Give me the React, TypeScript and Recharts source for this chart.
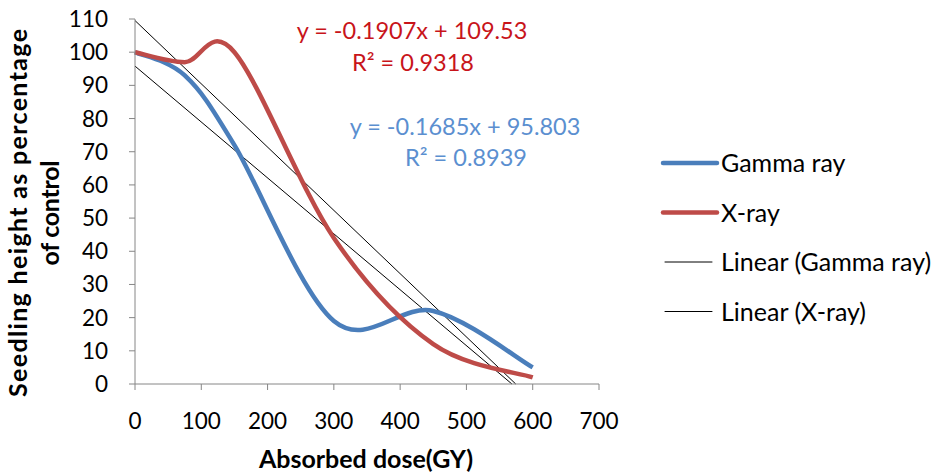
import { LineChart, Line, XAxis, YAxis, Customized } from 'recharts';

// absorbed dose (GY) at which seedlings were measured
const doses = [0, 75, 150, 300, 450, 600];
const gammaRay = [100, 93, 72, 19, 22, 5];
const xRay = [100, 97, 100, 44, 12, 2];

// trendline end points (line is clipped at y = 0)
const gammaTrend = [
  { x: 0, y: 95.803 },
  { x: 568.6, y: 0 },
];
const xRayTrend = [
  { x: 0, y: 109.53 },
  { x: 574.4, y: 0 },
];

const xTicks = [0, 100, 200, 300, 400, 500, 600, 700];
const yTicks = [0, 10, 20, 30, 40, 50, 60, 70, 80, 90, 100, 110];

const legendItems = [
  { name: 'Gamma ray', color: '#4a7ebb', width: 4.5 },
  { name: 'X-ray', color: '#be4b48', width: 4.5 },
  { name: 'Linear (Gamma ray)', color: '#000', width: 1 },
  { name: 'Linear (X-ray)', color: '#000', width: 1 },
];

const gammaData = doses.map((x, i) => ({ x, y: gammaRay[i] }));
const xRayData = doses.map((x, i) => ({ x, y: xRay[i] }));

const FONT = 'Lato, "Liberation Sans", sans-serif';

// Excel-like smoothed line (Catmull-Rom through the points)
const smoothCurve = (context: any) => {
  let pts: number[][] = [];
  return {
    areaStart() {},
    areaEnd() {},
    lineStart() {
      pts = [];
    },
    point(x: number, y: number) {
      pts.push([+x, +y]);
    },
    lineEnd() {
      if (!pts.length) return;
      context.moveTo(pts[0][0], pts[0][1]);
      for (let i = 0; i < pts.length - 1; i++) {
        const p0 = pts[i - 1] || pts[i];
        const p1 = pts[i];
        const p2 = pts[i + 1];
        const p3 = pts[i + 2] || p2;
        context.bezierCurveTo(
          p1[0] + (p2[0] - p0[0]) / 6,
          p1[1] + (p2[1] - p0[1]) / 6,
          p2[0] - (p3[0] - p1[0]) / 6,
          p2[1] - (p3[1] - p1[1]) / 6,
          p2[0],
          p2[1]
        );
      }
    },
  };
};

const Annotations = () => (
  <g fontFamily={FONT} fontSize={23.5} textAnchor="middle">
    <text x={412} y={39} fill="#c8141a">y = -0.1907x + 109.53</text>
    <text x={413} y={71} fill="#c8141a">R² = 0.9318</text>
    <text x={465} y={135} fill="#5b8fd0">y = -0.1685x + 95.803</text>
    <text x={466} y={166} fill="#5b8fd0">R² = 0.8939</text>
    <text x={366} y={468} fontSize={25} fontWeight="bold" fill="#000">
      Absorbed dose(GY)
    </text>
    <g transform="translate(0, 213) rotate(-90)" fontSize={25} fontWeight="bold" fill="#000">
      <text x={0} y={27} textLength={368} lengthAdjust="spacing">
        Seedling height as percentage
      </text>
      <text x={0} y={59} textLength={105} lengthAdjust="spacing">
        of control
      </text>
    </g>
    <g transform="translate(662, 149)" textAnchor="start" fontSize={25}>
      {legendItems.map((item, i) => (
        <g key={item.name} transform={`translate(0, ${i * 49.5})`}>
          <line
            x1={item.width > 1 ? 1 : 3}
            x2={item.width > 1 ? 55 : 50}
            y1={14}
            y2={14}
            stroke={item.color}
            strokeWidth={item.width}
            strokeLinecap="round"
          />
          <text x={59} y={23} fill="#000">
            {item.name}
          </text>
        </g>
      ))}
    </g>
  </g>
);

const App = () => (
  <div style={{ position: 'absolute', left: 0, top: 0, background: '#fff' }}>
    <LineChart width={938} height={475} margin={{ top: 19, right: 339, left: 0, bottom: 0 }}>
      <XAxis
        type="number"
        dataKey="x"
        domain={[0, 700]}
        ticks={xTicks}
        interval={0}
        height={91}
        axisLine={{ stroke: '#868686' }}
        tickLine={{ stroke: '#868686' }}
        tickSize={6}
        tickMargin={23}
        tick={{ fill: '#000', fontSize: 22.5, fontFamily: FONT }}
        allowDuplicatedCategory={false}
      />
      <YAxis
        type="number"
        domain={[0, 110]}
        ticks={yTicks}
        interval={0}
        width={135}
        axisLine={{ stroke: '#868686' }}
        tickLine={{ stroke: '#868686' }}
        tickSize={6}
        tickMargin={21}
        tick={{ fill: '#000', fontSize: 22.5, fontFamily: FONT }}
      />
      <Line
        data={gammaTrend}
        dataKey="y"
        name="Linear (Gamma ray)"
        type="linear"
        stroke="#000"
        strokeWidth={1}
        dot={false}
        isAnimationActive={false}
      />
      <Line
        data={xRayTrend}
        dataKey="y"
        name="Linear (X-ray)"
        type="linear"
        stroke="#000"
        strokeWidth={1}
        dot={false}
        isAnimationActive={false}
      />
      <Line
        data={gammaData}
        dataKey="y"
        name="Gamma ray"
        type={smoothCurve as any}
        stroke="#4a7ebb"
        strokeWidth={4.5}
        dot={false}
        isAnimationActive={false}
      />
      <Line
        data={xRayData}
        dataKey="y"
        name="X-ray"
        type={smoothCurve as any}
        stroke="#be4b48"
        strokeWidth={4.5}
        dot={false}
        isAnimationActive={false}
      />
      <Customized component={Annotations} />
    </LineChart>
  </div>
);

export default App;
